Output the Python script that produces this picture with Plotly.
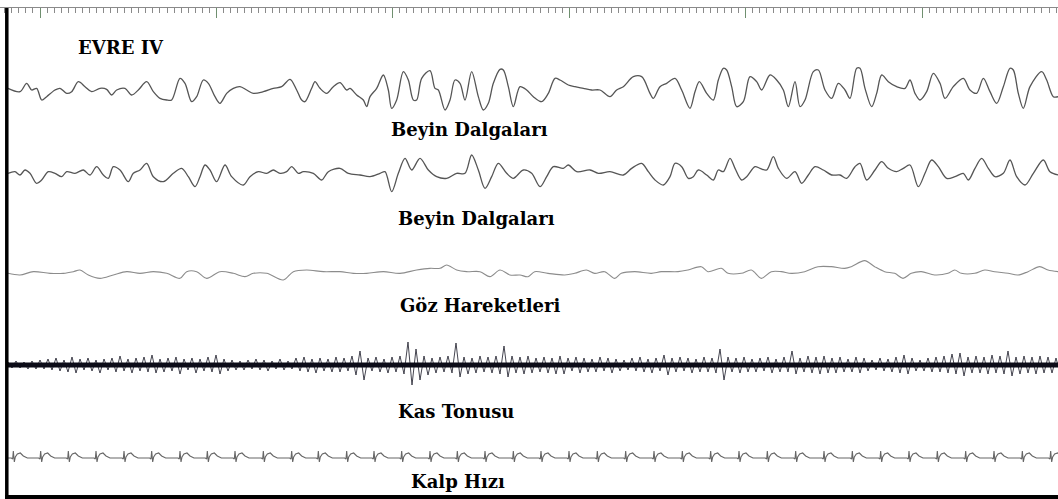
import numpy as np
import plotly.graph_objects as go

# ---------------- data (sample index n at 105.84 Hz, amplitudes in µV) ----------------
FS = 105.84            # samples per second
EPOCH_ZERO = 120       # sample index where the epoch clock reads 0 s
N_END = 3174

EEG1_N = [24, 60, 80, 95, 110, 125, 140, 165, 180, 200, 215, 235, 255, 275, 300, 320, 335, 350, 375, 395,
          415, 440, 460, 480, 500, 515, 540, 555, 575, 590, 610, 625, 645, 660, 680, 700, 720, 740, 760, 790,
          820, 845, 870, 890, 905, 915, 935, 945, 960, 980, 1000, 1020, 1040, 1050, 1070, 1090, 1100, 1110, 1130, 1150,
          1165, 1175, 1190, 1210, 1225, 1240, 1250, 1265, 1290, 1305, 1315, 1335, 1350, 1365, 1380, 1395, 1415, 1435, 1450, 1465,
          1480, 1500, 1510, 1525, 1540, 1560, 1580, 1600, 1625, 1645, 1665, 1680, 1705, 1725, 1750, 1775, 1800, 1830, 1850, 1870,
          1900, 1925, 1950, 1960, 1980, 2000, 2025, 2045, 2070, 2085, 2098, 2120, 2140, 2155, 2170, 2180, 2195, 2210, 2230, 2250,
          2270, 2285, 2310, 2330, 2350, 2365, 2385, 2400, 2415, 2440, 2455, 2475, 2495, 2515, 2535, 2550, 2570, 2580, 2595, 2615,
          2630, 2645, 2665, 2690, 2715, 2730, 2745, 2760, 2780, 2800, 2820, 2835, 2860, 2890, 2910, 2930, 2950, 2970, 2990, 3010,
          3030, 3040, 3055, 3070, 3090, 3125, 3140, 3160, 3175]
EEG1_UV = [5, -5, 20, 0, 5, -30, -20, 0, 5, -10, -5, 25, 10, -5, 5, 2, -15, 0, 5, -15,
           0, 25, -5, -25, -30, -30, 35, 20, -35, -20, 30, 20, -20, -40, -10, 5, 10, 0, -10, -5,
           5, 10, 32, 0, -30, -35, 5, 25, 5, -10, 10, 22, 0, 5, -15, -30, -50, -20, 5, 45,
           0, -55, -30, 55, 30, -30, -30, 35, 58, 5, 0, -60, -30, 30, 20, -30, 55, -20, -60, -40,
           20, 62, 60, 10, -50, 10, 0, -20, -35, -10, 35, 30, 15, 10, 5, 0, 0, -20, 0, 10,
           40, 40, -10, -25, 10, 20, 35, 0, -55, -5, 25, -10, -30, 30, 65, 60, 10, -50, -35, 40,
           25, 0, 45, 30, 0, -50, 25, -50, -30, 55, 60, 0, -25, 20, 0, -25, 65, 65, 5, -50,
           -10, 45, 25, 10, 5, 30, -10, -30, -5, 50, 20, -25, 10, 35, 0, -10, 35, -5, -40, 10,
           65, 60, -10, -55, 10, 55, 30, -20, -20]

EEG2_N = [24, 45, 60, 75, 90, 110, 125, 145, 165, 185, 200, 225, 250, 270, 290, 310, 325, 340, 360, 385,
          400, 420, 440, 460, 490, 520, 545, 565, 585, 600, 615, 630, 650, 675, 695, 730, 750, 775, 800, 820,
          840, 860, 875, 895, 910, 940, 965, 985, 1020, 1045, 1080, 1110, 1140, 1155, 1175, 1195, 1215, 1235, 1260, 1285,
          1310, 1340, 1370, 1395, 1415, 1435, 1455, 1475, 1495, 1520, 1540, 1570, 1595, 1620, 1640, 1660, 1690, 1705, 1730, 1770,
          1795, 1830, 1870, 1895, 1925, 1945, 1965, 1990, 2010, 2025, 2045, 2065, 2080, 2095, 2120, 2140, 2155, 2170, 2190, 2205,
          2225, 2240, 2265, 2280, 2300, 2320, 2335, 2360, 2385, 2405, 2425, 2445, 2470, 2495, 2520, 2540, 2565, 2580, 2600, 2625,
          2645, 2665, 2690, 2710, 2730, 2755, 2775, 2795, 2815, 2840, 2865, 2890, 2905, 2925, 2945, 2965, 2985, 3010, 3030, 3050,
          3075, 3100, 3130, 3150, 3175]
EEG2_UV = [0, 5, -5, 10, 0, -30, -20, 5, 0, -10, 5, 0, 10, -5, 20, -5, -15, 20, 10, -25,
           0, 10, 30, -10, -25, 0, 15, -10, -40, -10, 25, 10, -25, 25, -10, -35, -10, 5, 0, 10,
           0, 5, 20, 0, 5, 0, -20, 5, 15, 0, -5, -10, 0, 5, -55, 0, 45, 10, 45, 10,
           -10, -15, 0, 0, 55, 10, -45, -10, 30, 0, -15, 10, 0, -40, -10, 20, 15, 25, 5, 10,
           0, 5, -5, 15, 30, 5, -20, -35, -10, 30, 20, -15, -10, 10, -5, -20, 10, 5, 45, 15,
           -20, -10, 20, 15, 10, 50, 15, -15, 5, -30, -5, 20, 10, -5, -5, -15, 20, 30, -20, 10,
           35, 15, 5, 15, 25, -40, 0, 40, 20, -15, -10, 0, -20, 15, 45, 15, -10, 0, 40, -10,
           -35, 0, 40, 5, -5]

EOG_N = [24, 60, 100, 150, 190, 220, 240, 265, 300, 340, 380, 420, 460, 500, 540, 560, 590, 620, 660, 700,
         735, 760, 800, 850, 880, 920, 970, 1020, 1060, 1100, 1150, 1200, 1250, 1290, 1320, 1340, 1370, 1400, 1440, 1470,
         1500, 1530, 1560, 1584, 1604, 1644, 1694, 1724, 1759, 1784, 1814, 1844, 1864, 1904, 1954, 1984, 2034, 2064, 2104, 2124,
         2164, 2184, 2224, 2254, 2284, 2314, 2344, 2374, 2414, 2454, 2494, 2534, 2554, 2594, 2624, 2654, 2684, 2709, 2734, 2764,
         2804, 2844, 2864, 2884, 2924, 2954, 2984, 3024, 3054, 3084, 3119, 3144, 3175]
EOG_UV = [0, -5, 5, 0, 0, 5, 10, -5, -15, -5, 5, 0, 5, 0, -15, 5, 5, -15, 5, 0,
          -10, 0, 0, -20, 5, 10, 5, 5, 0, 0, 5, 0, 10, 15, 15, 25, 10, 5, 5, -10,
          10, -5, -5, -10, 5, 0, -5, 0, 10, 0, 5, -15, 0, 5, 0, 5, 5, 10, 20, 5,
          15, 0, 0, 10, -15, 5, 5, 0, 5, 20, 20, 15, 20, 38, 20, 5, 0, -15, 0, 5,
          -5, 0, 10, 0, 0, 10, 5, 0, -5, 5, 20, 10, 5]

# EMG envelope, one value every 24 samples starting at sample 24 (upper / lower extent)
EMG_N0 = 24
EMG_STEP = 24
EMG_UP_UV = [9, 12, 9, 12, 15, 18, 21, 15, 24, 18, 21, 15, 18, 21, 27, 18, 21, 24, 30, 18,
             21, 24, 18, 21, 18, 24, 30, 18, 15, 12, 15, 18, 15, 12, 18, 12, 21, 24, 18, 21,
             18, 24, 21, 27, 42, 21, 24, 18, 24, 27, 69, 48, 27, 21, 24, 27, 66, 24, 21, 27,
             24, 27, 57, 27, 24, 27, 21, 24, 21, 27, 21, 24, 21, 18, 24, 21, 18, 15, 21, 24,
             18, 21, 30, 21, 24, 21, 18, 24, 21, 48, 24, 21, 24, 18, 21, 24, 18, 24, 42, 21,
             27, 24, 27, 21, 24, 18, 24, 21, 15, 21, 18, 24, 30, 21, 15, 21, 24, 27, 33, 36,
             24, 27, 24, 30, 27, 42, 24, 27, 24, 27, 24, 21]
EMG_DN_UV = [-9, -9, -12, -12, -12, -15, -18, -21, -24, -15, -18, -24, -15, -21, -18, -24, -18, -21, -24, -21,
             -18, -27, -15, -24, -18, -21, -27, -18, -15, -15, -12, -15, -18, -12, -15, -12, -18, -21, -24, -18,
             -21, -21, -18, -30, -45, -18, -21, -24, -21, -27, -60, -45, -30, -24, -21, -24, -36, -27, -24, -21,
             -24, -27, -36, -24, -27, -24, -21, -24, -27, -27, -18, -24, -21, -21, -18, -24, -18, -15, -18, -21,
             -24, -18, -30, -21, -18, -24, -21, -21, -24, -45, -21, -24, -21, -21, -18, -24, -21, -21, -27, -21,
             -24, -27, -24, -24, -21, -21, -24, -18, -15, -18, -21, -24, -27, -18, -18, -21, -21, -24, -27, -33,
             -24, -24, -27, -24, -27, -33, -27, -24, -27, -24, -24, -24]

# ECG: R-peak sample indices and one beat's shape
ECG_R_N = [40, 122, 205, 288, 372, 455, 540, 622, 705, 790, 875, 955, 1040, 1122, 1205, 1290, 1372, 1455, 1540,
           1623, 1707, 1792, 1877, 1962, 2047, 2132, 2217, 2302, 2387, 2472, 2557, 2642, 2727, 2812, 2897,
           2982, 3067, 3152]
ECG_BEAT_DN = [-6, -2, 0, 3, 6, 12, 21, 30, 42]
ECG_BEAT_UV = [0, -3, 21, -12, 3, 12, 15, 6, 0]

LABELS = ["EVRE IV", "Beyin Dalgaları", "Beyin Dalgaları", "Göz Hareketleri", "Kas Tonusu", "Kalp Hızı"]

# ---------------- layout constants ----------------
W, H = 1058, 499
TOP = 8
Y_MAX = (H - TOP) * 3
OFF = dict(eeg1=1227, eeg2=977, eog=677, emg=402, ecg=123)
LABEL_POS = [(121, 47), (469, 130), (476, 218), (480, 305), (456, 411), (458, 481)]


def to_t(n):
    return (np.asarray(n, dtype=float) - EPOCH_ZERO) / FS


fig = go.Figure()

fig.add_trace(go.Scatter(x=to_t(EEG1_N), y=np.array(EEG1_UV) + OFF["eeg1"], mode="lines",
                         line=dict(color="#555555", width=1.3, shape="spline", smoothing=0.9),
                         hoverinfo="skip"))
fig.add_trace(go.Scatter(x=to_t(EEG2_N), y=np.array(EEG2_UV) + OFF["eeg2"], mode="lines",
                         line=dict(color="#555555", width=1.3, shape="spline", smoothing=0.9),
                         hoverinfo="skip"))
fig.add_trace(go.Scatter(x=to_t(EOG_N), y=np.array(EOG_UV) + OFF["eog"], mode="lines",
                         line=dict(color="#8c8c8c", width=1.1, shape="spline", smoothing=0.9),
                         hoverinfo="skip"))

# EMG: zigzag between upper and lower extents, over a dense dark core
emg_n = []
emg_v = []
for i, (u, d) in enumerate(zip(EMG_UP_UV, EMG_DN_UV)):
    n0 = EMG_N0 + i * EMG_STEP
    emg_n += [n0, n0 + EMG_STEP / 2]
    emg_v += [u, d]
fig.add_trace(go.Scatter(x=to_t(emg_n), y=np.array(emg_v) + OFF["emg"], mode="lines",
                         line=dict(color="#30303c", width=0.9), hoverinfo="skip"))
fig.add_trace(go.Scatter(x=to_t([EMG_N0, N_END]), y=[OFF["emg"], OFF["emg"]], mode="lines",
                         line=dict(color="#0c0c18", width=5), hoverinfo="skip"))

# ECG
ecg_n = [24]
ecg_v = [0]
for r in ECG_R_N:
    for dn, uv in zip(ECG_BEAT_DN, ECG_BEAT_UV):
        ecg_n.append(r + dn)
        ecg_v.append(uv)
ecg_n.append(N_END)
ecg_v.append(0)
fig.add_trace(go.Scatter(x=to_t(ecg_n), y=np.array(ecg_v) + OFF["ecg"], mode="lines",
                         line=dict(color="#666666", width=1.1), hoverinfo="skip"))

for txt, (px, py) in zip(LABELS, LABEL_POS):
    fig.add_annotation(x=px / W, y=(H - py) / (H - TOP), xref="paper", yref="paper",
                       text=txt, showarrow=False, xanchor="center", yanchor="middle",
                       font=dict(family="DejaVu Serif", size=18, color="#000000", weight="bold"))

# frame: left and bottom borders
fig.add_shape(type="line", xref="paper", yref="paper", x0=6.8 / W, x1=6.8 / W,
              y0=0, y1=1, line=dict(color="#000000", width=3.5))
fig.add_shape(type="line", xref="paper", yref="paper", x0=5 / W, x1=1,
              y0=2 / (H - TOP), y1=2 / (H - TOP), line=dict(color="#000000", width=4))

fig.update_layout(
    width=W, height=H,
    margin=dict(l=0, r=0, t=TOP, b=0, pad=0),
    paper_bgcolor="white", plot_bgcolor="white",
    showlegend=False,
    xaxis=dict(range=[to_t(0), to_t(N_END)], side="top", showgrid=False, zeroline=False,
               showline=True, linecolor="#8a8a8a", linewidth=1,
               ticks="inside", ticklen=10, tickwidth=1, tickcolor="#6f8f6f",
               tick0=0, dtick=5, showticklabels=False,
               minor=dict(ticks="inside", ticklen=5, tickwidth=1, tickcolor="#8a8a8a",
                          dtick=0.2, tick0=0, showgrid=False)),
    yaxis=dict(range=[0, Y_MAX], visible=False, showgrid=False, zeroline=False),
)

fig.write_html("out.html")
